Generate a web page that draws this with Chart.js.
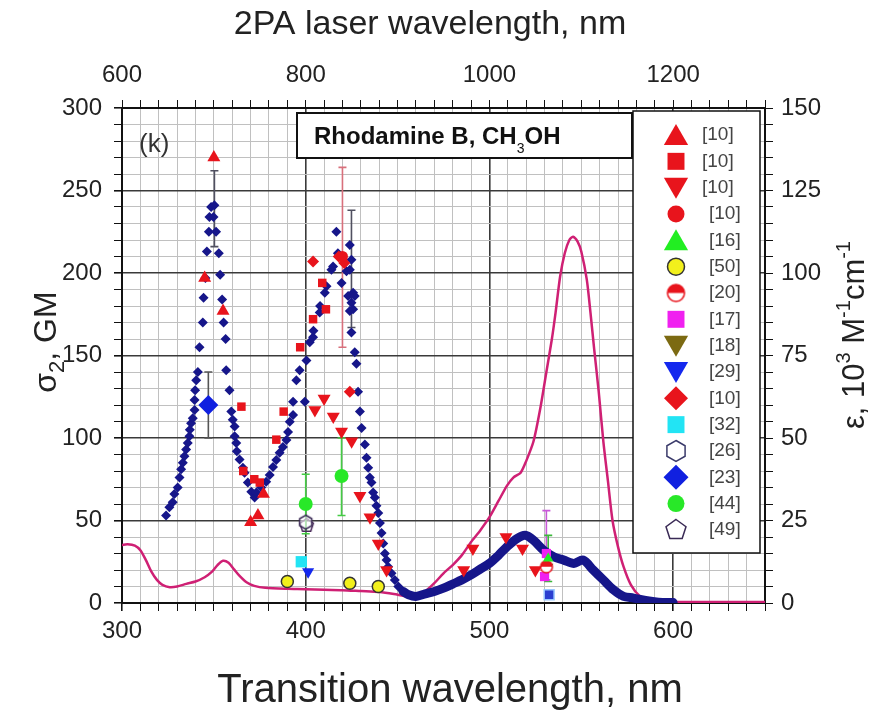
<!DOCTYPE html>
<html>
<head>
<meta charset="utf-8">
<script src="https://cdn.jsdelivr.net/npm/chart.js@4.4.0/dist/chart.umd.min.js"></script>
<style>
  html, body { margin: 0; padding: 0; background: #fff; }
</style>
</head>
<body>
<canvas id="chart" width="876" height="712"></canvas>
<script>
// tick labels
const bottomLabels = [300, 400, 500, 600];
const topLabels = [600, 800, 1000, 1200];
const leftLabels = [0, 50, 100, 150, 200, 250, 300];
const rightLabels = [0, 25, 50, 75, 100, 125, 150];

// absorption, right axis (10^3 M-1 cm-1)
const epsilon = [[300,17.6],[303,17.8],[307,17.4],[310,16],[313,13],[316,9.5],[319,7],[322,5.5],[326,4.8],[330,5],[335,5.8],[340,6.5],[345,7.8],[349,9.5],[352,11.5],[355,12.8],[358,12.2],[361,10.2],[364,8.2],[368,6.2],[372,5.2],[378,4.6],[390,4.3],[400,4.2],[410,4],[420,3.9],[430,3.6],[440,3.3],[448,2.7],[455,2],[460,2],[465,3.5],[470,6],[475,9],[480,11.5],[485,14.5],[490,18.5],[495,22],[500,26],[505,31],[509.5,35.5],[513,38],[517,39.5],[520,43],[524,49],[527.7,59],[531,70],[534,80],[536,88],[538.5,99],[541,106],[543.5,110],[545.5,111],[548,109.5],[550,106.5],[553,98],[555,88],[557,77],[559.5,64],[562,49],[564.5,37],[567,25],[570,17],[573,11],[577,5.5],[582,2],[587,0.8],[595,0.4],[620,0.3],[650,0.3]];

// 2PA cross section, left axis (GM)
const navyDots = [[324,53],[325.8,58],[327.6,61],[328.5,66],[330.3,70],[331.3,76],[332.2,81],[333.1,85],[334,89],[334.9,93],[335.8,97],[336.7,101],[336.9,105],[337.6,109],[338.5,112],[339.5,117],[339.5,123],[339.8,129],[340.4,135],[341.3,140],[342.2,155],[344,170],[344.4,185],[345.4,197],[346.2,213],[347.3,225],[347.6,234],[348.5,240],[350.3,241],[349.8,234],[351.2,225],[352.7,212],[353.4,199],[354.5,184],[355.3,170],[356.4,160],[356.7,141],[358.5,129],[359.5,116],[360.3,111],[361.3,107],[361.3,101],[362.2,97],[362.5,92],[364,87],[365.8,82],[366.7,79],[368.5,73],[370.4,67.5],[372.2,64],[373.1,67],[375.8,70],[378.5,73.5],[380.4,77.6],[382.2,82.5],[384,86.7],[385.8,91],[387.6,94.6],[389.5,98.8],[390.4,103.7],[391.3,109.8],[393.1,114],[393.1,122],[394.9,135],[396.7,141],[399.5,122],[400.4,147],[402.2,158],[404,161],[404.2,165],[407.6,176],[407.8,180],[410.4,188],[411.3,192],[414,202],[414.9,204],[416.7,225],[417.5,212],[419.5,194],[422.2,201],[424,217],[424.9,208],[424,202],[423.1,186],[424.9,182],[425.8,188],[426.7,186],[425.8,178],[424,177],[424.9,164],[426.7,152],[427.6,145],[428.5,128],[429.5,116],[430.4,106],[432.2,96],[433.1,88],[434,82],[434.9,76],[435.8,73],[436.7,67],[437.6,64],[438.5,59],[439.5,54.5],[440.4,48.5],[441.3,42.5],[442.2,36],[443.1,30],[444,26],[444.9,22],[446.7,18],[448.5,14],[450.4,10],[453.1,7]];
const navyBand = [[453,7],[456,5],[460,4],[465,5.5],[470,7],[475,9],[480,11.5],[485,14],[490,17],[495,20.5],[500,24],[505,29],[509.5,34],[515,39],[519.5,41],[524,38],[529.5,32],[535,28],[540.5,26],[546,24],[551,26],[556.5,20],[562,14],[567.5,8],[573,4],[578.5,3],[585,1.5],[592,0.5],[600,0.3]];

const ref10Up = [[345,197],[350,270],[355,177],[370,49],[374,53],[377,66]];
const ref10Square = [[365,119],[366,80],[372,75],[375,73],[384,99],[388,116],[397,155],[404,172],[409,194],[411,178]];
const ref10Down = [[405,117],[410,124],[415,113],[419.5,104],[425,98],[429.5,65],[435,52],[439.5,36],[444,20],[486,20],[491,33],[509,40],[518,33],[525,20]];
const ref10Circle = [[420,210]];
const ref16 = [[532,27]];
const ref50 = [[390,13],[424,12],[439.5,10]];
const ref20 = [[531,22]];
const ref17 = [[530,16],[531,30]];
const ref18 = [[532,22]];
const ref29 = [[401.3,19]];
const ref10Diamond = [[404,207],[418,210],[421,206],[424,128]];
const ref32 = [[397.6,25]];
const ref26 = [[400,49]];
const ref23 = [[347,120]];
const ref44 = [[400,60],[419.5,77]];
const ref49 = [[400.5,47]];
const extraSquare = [[532.5,5]];

const legendLabels = ['[10]','[10]','[10]','[10]','[16]','[50]','[20]','[17]','[18]','[29]','[10]','[32]','[26]','[23]','[44]','[49]'];

// error bars: [x, low, high]
const errNavy = [[350.3,216,262],[424.9,167,238]];
const err10Circle = [[420,155,264]];
const err23 = [[347,100,140]];
const err44 = [[400,42,78],[419.5,53,100]];
const err17 = [[531,14,56]];
const err16 = [[532,13,41]];

const FONT = "'Liberation Sans', Arial, sans-serif";
const pts = (a) => a.map(([x, y]) => ({ x, y }));

function polyCanvas(sides, r, fill, stroke, lw) {
  const s = Math.ceil(2 * r + 2 * lw + 2);
  const cv = document.createElement('canvas');
  cv.width = cv.height = s;
  const g = cv.getContext('2d');
  g.beginPath();
  for (let i = 0; i < sides; i++) {
    const a = -Math.PI / 2 + i * 2 * Math.PI / sides;
    const px = s / 2 + r * Math.cos(a), py = s / 2 + r * Math.sin(a);
    if (i) g.lineTo(px, py); else g.moveTo(px, py);
  }
  g.closePath();
  g.fillStyle = fill; g.fill();
  g.lineWidth = lw; g.strokeStyle = stroke; g.stroke();
  return cv;
}

function halfCanvas(r, color) {
  const s = Math.ceil(2 * r + 4);
  const cv = document.createElement('canvas');
  cv.width = cv.height = s;
  const g = cv.getContext('2d');
  g.beginPath(); g.arc(s / 2, s / 2, r, 0, 2 * Math.PI);
  g.fillStyle = '#fff'; g.fill();
  g.beginPath(); g.arc(s / 2, s / 2, r, Math.PI, 2 * Math.PI); g.closePath();
  g.fillStyle = color; g.fill();
  g.beginPath(); g.arc(s / 2, s / 2, r, 0, 2 * Math.PI);
  g.lineWidth = 1.5; g.strokeStyle = color; g.stroke();
  return cv;
}

const RED = '#e8141c';
const NAVY = '#16168a';

function marker(data, legendIndex, style, color, r, lr, more) {
  return Object.assign({
    data: pts(data), legendIndex, pointStyle: style, pointRadius: r, legendRadius: lr,
    backgroundColor: color, borderColor: color, pointBorderWidth: 0, showLine: false, order: 1
  }, more || {});
}

const datasets = [
  { data: pts(epsilon), yAxisID: 'y2', showLine: true, pointRadius: 0, borderColor: '#cf2074',
    borderWidth: 2.5, tension: 0.25, order: 5 },
  { data: pts(navyBand), showLine: true, pointRadius: 0, borderColor: NAVY, borderWidth: 9,
    borderCapStyle: 'round', borderJoinStyle: 'round', tension: 0.3, order: 4 },
  { data: pts(navyDots), showLine: false, pointStyle: 'rectRot', pointRadius: 5,
    backgroundColor: NAVY, borderColor: NAVY, pointBorderWidth: 0, order: 3 },
  marker(ref10Up, 0, 'triangle', RED, 7.5, 14),
  marker(ref10Square, 1, 'rect', RED, 6, 12),
  marker(ref10Down, 2, 'triangle', RED, 7.5, 14, { pointRotation: 180, legendRotation: 180 }),
  marker(ref10Circle, 3, 'circle', RED, 5.5, 8.5),
  marker(ref16, 4, 'triangle', '#22ee22', 6, 14),
  marker(ref50, 5, 'circle', '#f2f01c', 6, 8.5, { borderColor: '#333', pointBorderWidth: 1.5, legendBorder: 1.5 }),
  marker(ref20, 6, halfCanvas(6, RED), RED, 6, 8.5, { legendImage: halfCanvas(8.5, RED) }),
  marker(ref17, 7, 'rect', '#f020f0', 6.5, 12),
  marker(ref18, 8, 'triangle', '#7c6a12', 6, 14, { pointRotation: 180, legendRotation: 180 }),
  marker(ref29, 9, 'triangle', '#1428ee', 7, 14, { pointRotation: 180, legendRotation: 180 }),
  marker(ref10Diamond, 10, 'rectRot', RED, 6, 12),
  marker(ref32, 11, 'rect', '#22e4f4', 8, 12),
  marker(ref26, 12, polyCanvas(6, 7, 'rgba(255,255,255,0.6)', '#3a2a55', 1.5), '#3a2a55', 7, 10,
    { legendImage: polyCanvas(6, 10.5, '#fff', '#3a3a6a', 1.5) }),
  marker(ref23, 13, 'rectRot', '#1020e0', 10, 12.5, { order: 0 }),
  marker(ref44, 14, 'circle', '#28e828', 7, 8.5),
  marker(ref49, 15, polyCanvas(5, 7, 'rgba(255,255,255,0)', '#4a2a5a', 1.5), '#4a2a5a', 7, 10,
    { legendImage: polyCanvas(5, 10.5, '#fff', '#3a2a55', 1.5) }),
  { data: pts(extraSquare), showLine: false, pointStyle: 'rect', pointRadius: 7,
    backgroundColor: '#2a3ed0', borderColor: '#9ac8ff', pointBorderWidth: 1.5, order: 0 }
];

const errorSets = [
  { data: errNavy, color: '#505060' },
  { data: err10Circle, color: '#d8707c' },
  { data: err23, color: '#555' },
  { data: err44, color: '#44cc44' },
  { data: err17, color: '#c858d8' },
  { data: err16, color: '#3cb83c' }
];

const errorBarPlugin = {
  id: 'errorBars',
  beforeDatasetsDraw(chart) {
    const { ctx, scales: { x, y } } = chart;
    ctx.save();
    ctx.lineWidth = 1.6;
    errorSets.forEach((set) => {
      ctx.strokeStyle = set.color;
      set.data.forEach(([vx, lo, hi]) => {
        const px = x.getPixelForValue(vx);
        const p1 = y.getPixelForValue(lo), p2 = y.getPixelForValue(hi);
        ctx.beginPath();
        ctx.moveTo(px, p1); ctx.lineTo(px, p2);
        ctx.moveTo(px - 4, p1); ctx.lineTo(px + 4, p1);
        ctx.moveTo(px - 4, p2); ctx.lineTo(px + 4, p2);
        ctx.stroke();
      });
    });
    ctx.restore();
  }
};

function drawRuns(ctx, runs, x, y) {
  // runs: [text, size, weight, dy]
  let cx = x;
  runs.forEach(([t, size, weight, dy]) => {
    ctx.font = `${weight} ${size}px ${FONT}`;
    ctx.fillText(t, cx, y + dy);
    cx += ctx.measureText(t).width;
  });
  return cx - x;
}
function runsWidth(ctx, runs) {
  return runs.reduce((w, [t, size, weight]) => {
    ctx.font = `${weight} ${size}px ${FONT}`;
    return w + ctx.measureText(t).width;
  }, 0);
}

const decorPlugin = {
  id: 'decor',
  afterDraw(chart) {
    const ctx = chart.ctx;
    ctx.save();
    ctx.fillStyle = '#222';
    ctx.textBaseline = 'alphabetic';

    // top and bottom axis titles
    ctx.textAlign = 'center';
    ctx.font = `34px ${FONT}`;
    ctx.fillText('2PA laser wavelength, nm', 430, 34);
    ctx.font = `40px ${FONT}`;
    ctx.fillText('Transition wavelength, nm', 450, 702);
    ctx.textAlign = 'left';

    // left title
    const leftRuns = [['σ', 32, 'normal', 0], ['2', 22, 'normal', 8], [', GM', 32, 'normal', 0]];
    ctx.save();
    ctx.translate(56, 342);
    ctx.rotate(-Math.PI / 2);
    drawRuns(ctx, leftRuns, -runsWidth(ctx, leftRuns) / 2, 0);
    ctx.restore();

    // right title
    const rightRuns = [['ε, 10', 31, 'normal', 0], ['3', 20, 'normal', -14], [' M', 31, 'normal', 0],
      ['-1', 20, 'normal', -14], ['cm', 31, 'normal', 0], ['-1', 20, 'normal', -14]];
    ctx.save();
    ctx.translate(864, 335);
    ctx.rotate(-Math.PI / 2);
    drawRuns(ctx, rightRuns, -runsWidth(ctx, rightRuns) / 2, 0);
    ctx.restore();

    // panel tag
    ctx.font = `26px ${FONT}`;
    ctx.fillStyle = '#333';
    ctx.fillText('(k)', 139, 152);

    // compound box
    ctx.fillStyle = '#fff';
    ctx.fillRect(297, 113, 335, 45);
    ctx.strokeStyle = '#111';
    ctx.lineWidth = 2;
    ctx.strokeRect(297, 113, 335, 45);
    ctx.fillStyle = '#111';
    drawRuns(ctx, [['Rhodamine B, CH', 24, 'bold', 0], ['3', 14, 'normal', 9], ['OH', 24, 'bold', 0]], 314, 144);

    // legend
    ctx.fillStyle = '#fff';
    ctx.fillRect(633, 111, 127, 442);
    ctx.lineWidth = 1.5;
    ctx.strokeStyle = '#111';
    ctx.strokeRect(633, 111, 127, 442);
    chart.data.datasets.forEach((ds) => {
      if (ds.legendIndex === undefined) return;
      const i = ds.legendIndex;
      const ly = 135 + i * 26.33;
      if (ds.legendImage) {
        ctx.drawImage(ds.legendImage, 676 - ds.legendImage.width / 2, ly - ds.legendImage.height / 2);
      } else {
        ctx.fillStyle = ds.backgroundColor;
        ctx.strokeStyle = ds.borderColor;
        ctx.lineWidth = ds.legendBorder || 0;
        Chart.helpers.drawPoint(ctx, {
          pointStyle: ds.pointStyle, rotation: ds.legendRotation || 0,
          radius: ds.legendRadius, borderWidth: ds.legendBorder || 0
        }, 676, ly + (ds.pointStyle === 'triangle' ? (ds.legendRotation ? -3 : 3) : 0));
      }
      ctx.fillStyle = '#444';
      ctx.font = `19px ${FONT}`;
      ctx.textBaseline = 'middle';
      ctx.fillText(legendLabels[i], i < 3 ? 702 : 709, ly);
      ctx.textBaseline = 'alphabetic';
    });
    ctx.restore();
  }
};

const isOn = (v, list) => list.some((t) => Math.abs(t - v) < 1e-6);
const tickFont = { size: 24, family: FONT };

new Chart(document.getElementById('chart'), {
  type: 'scatter',
  data: { datasets },
  options: {
    responsive: false,
    animation: false,
    layout: { padding: 0 },
    plugins: { legend: { display: false }, tooltip: { enabled: false } },
    scales: {
      x: {
        type: 'linear', position: 'bottom', min: 300, max: 650,
        ticks: { stepSize: 10, autoSkip: false, maxRotation: 0, padding: 6, color: '#222', font: tickFont,
          callback: (v) => (isOn(v, bottomLabels) ? String(v) : '') },
        grid: {
          color: (c) => (c.tick && Math.round(c.tick.value) % 100 === 0 ? '#3a3a3a' : '#c0c0c0'),
          lineWidth: (c) => (c.tick && Math.round(c.tick.value) % 100 === 0 ? 1.6 : 1),
          tickColor: '#111', tickLength: 8
        },
        border: { color: '#111', width: 2 },
        afterFit: (s) => { s.height = 109; }
      },
      x2: {
        type: 'linear', position: 'top', min: 600, max: 1300,
        ticks: { stepSize: 20, autoSkip: false, maxRotation: 0, padding: 10, color: '#222', font: tickFont,
          callback: (v) => (isOn(v, topLabels) ? String(v) : '') },
        grid: { drawOnChartArea: false, tickColor: '#111', tickLength: 8 },
        border: { color: '#111', width: 2 },
        afterFit: (s) => { s.height = 108; }
      },
      y: {
        type: 'linear', position: 'left', min: 0, max: 300,
        ticks: { stepSize: 10, autoSkip: false, padding: 12, color: '#222', font: tickFont,
          callback: (v) => (isOn(v, leftLabels) ? String(v) : '') },
        grid: {
          color: (c) => (c.tick && Math.round(c.tick.value) % 50 === 0 ? '#3a3a3a' : '#c0c0c0'),
          lineWidth: (c) => (c.tick && Math.round(c.tick.value) % 50 === 0 ? 1.6 : 1),
          tickColor: '#111', tickLength: 8
        },
        border: { color: '#111', width: 2 },
        afterFit: (s) => { s.width = 122; }
      },
      y2: {
        type: 'linear', position: 'right', min: 0, max: 150,
        ticks: { stepSize: 5, autoSkip: false, padding: 8, color: '#222', font: tickFont,
          callback: (v) => (isOn(v, rightLabels) ? String(v) : '') },
        grid: { drawOnChartArea: false, tickColor: '#111', tickLength: 8 },
        border: { color: '#111', width: 2 },
        afterFit: (s) => { s.width = 111; }
      }
    }
  },
  plugins: [errorBarPlugin, decorPlugin]
});
</script>
</body>
</html>
